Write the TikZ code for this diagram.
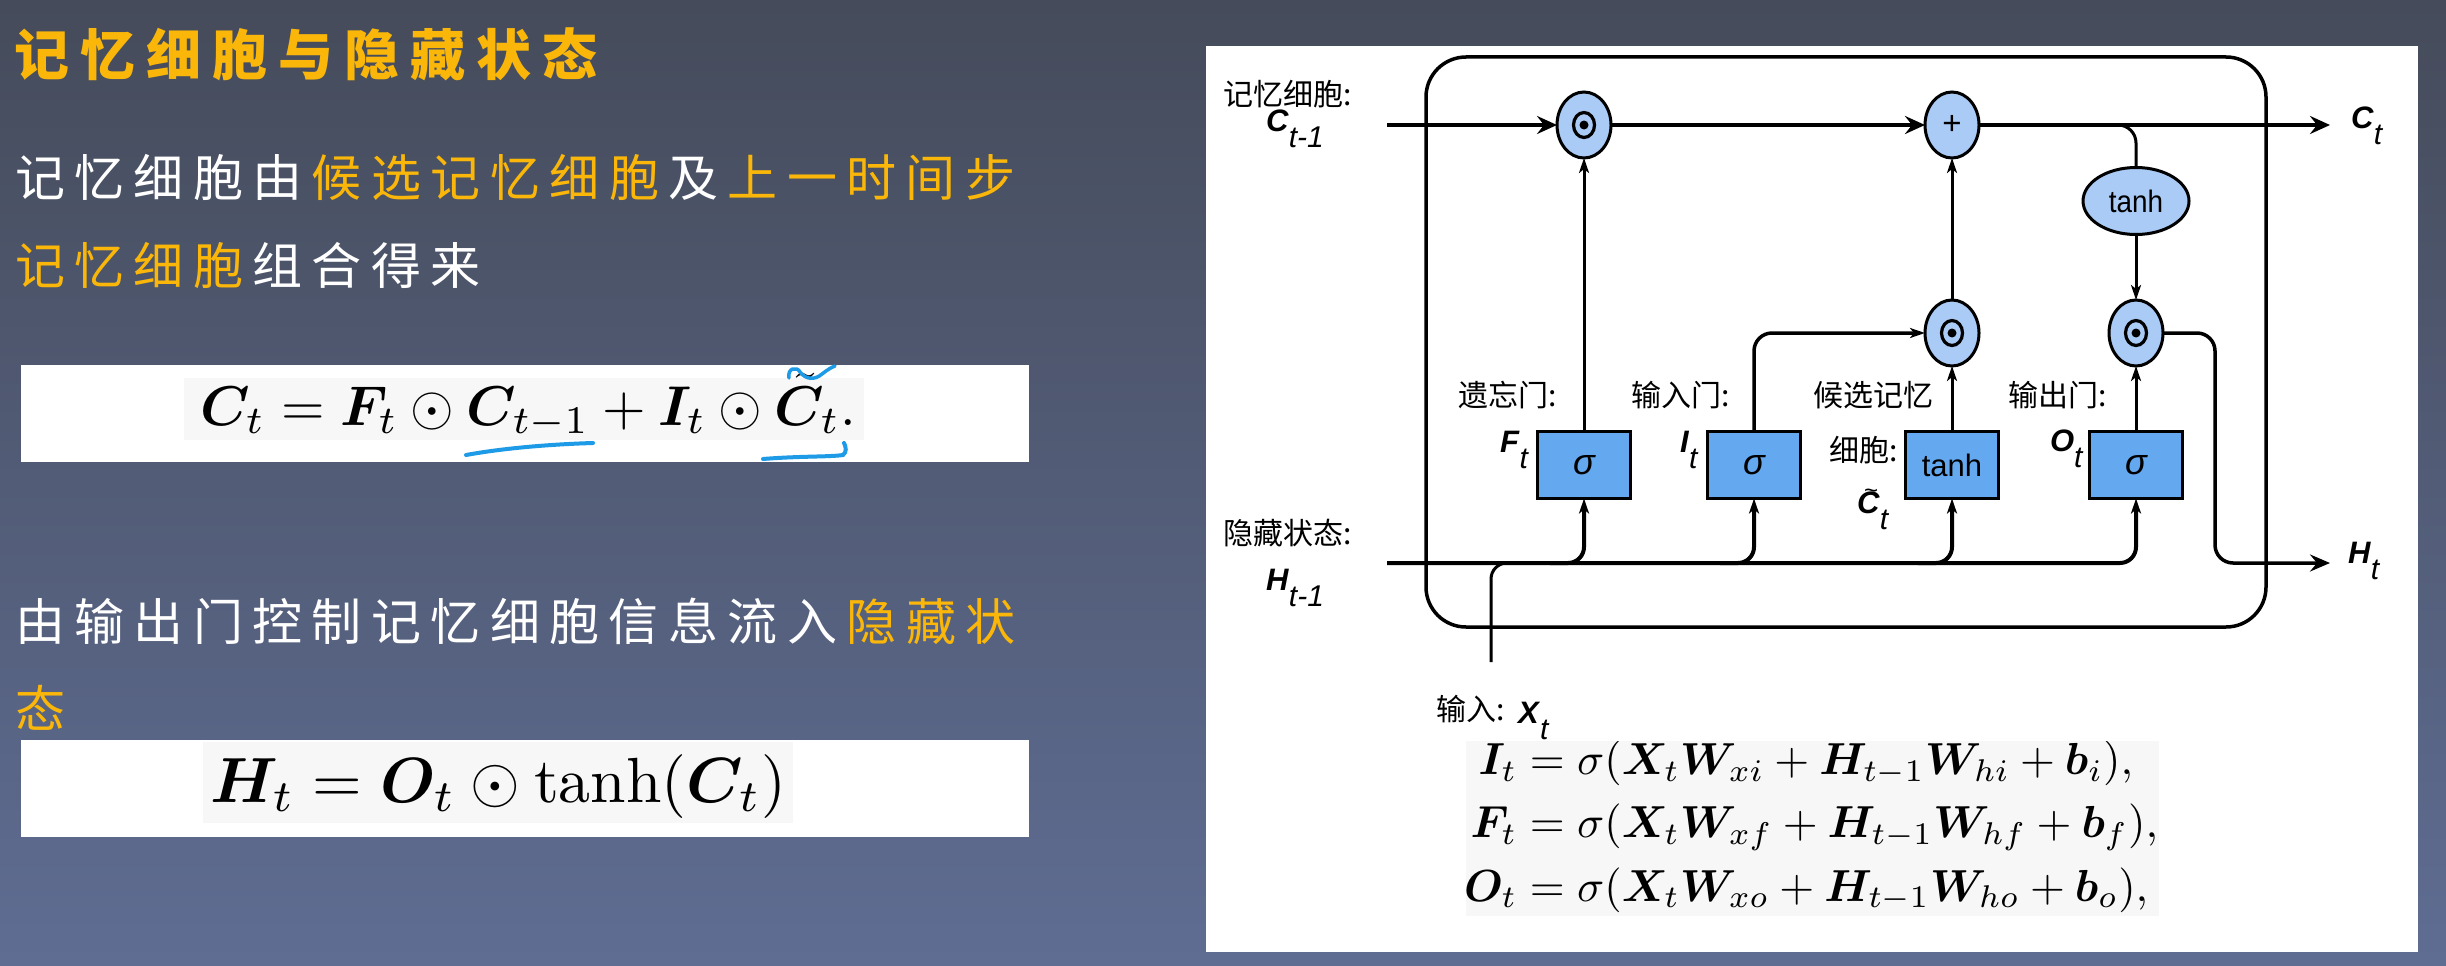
\documentclass[tikz,border=0pt]{standalone}
\usepackage{amsmath,bm}
\usepackage{graphicx}
\usepackage{fontspec}
\usetikzlibrary{arrows.meta,shapes.geometric}
\newfontfamily\cjk{Noto Sans CJK SC}
\newfontfamily\arial{Liberation Sans}
\definecolor{bgtop}{HTML}{454B5A}
\definecolor{bgbot}{HTML}{5F6D93}
\definecolor{orng}{HTML}{FAB70A}
\definecolor{cellfill}{HTML}{A9CBF5}
\definecolor{gatefill}{HTML}{64A9F0}
\definecolor{pen}{HTML}{1E9BE6}
\definecolor{eqbg}{HTML}{F7F7F7}
\makeatletter
\newcommand\spc[1]{\@tfor\my@ch:=#1\do{\makebox[59.4pt][l]{\my@ch}}}
\makeatother
\newcommand\bodyfont{\cjk\fontsize{50}{60}\selectfont}
\newcommand\lab{\cjk\fontsize{30}{32}\selectfont}
\newcommand\vl[2]{\begingroup\arial\fontsize{31}{31}\selectfont\textbf{\textit{#1}}\fontsize{30}{30}\selectfont\raisebox{-16pt}{\textit{#2}}\endgroup}
\newcommand\vlt[2]{\begingroup\arial\fontsize{31}{31}\selectfont\makebox[0pt][l]{\hspace{7pt}\raisebox{15pt}{\fontsize{24}{24}\selectfont\textasciitilde}}\textbf{\textit{#1}}\fontsize{30}{30}\selectfont\raisebox{-16pt}{\textit{#2}}\endgroup}
\begin{document}
\begin{tikzpicture}[x=1pt,y=-1pt,
  every node/.style={inner sep=0pt, outer sep=0pt},
  cell/.style={ellipse, draw, line width=3pt, fill=cellfill, minimum width=54pt, minimum height=66pt},
  odot/.style={cell, path picture={\draw[black, line width=3.2pt] (path picture bounding box.center) ellipse [x radius=10.5pt, y radius=12.5pt]; \fill[black] (path picture bounding box.center) circle [radius=4.5pt];}},
  gate/.style={rectangle, draw, line width=3.5pt, fill=gatefill, minimum width=93pt, minimum height=67pt},
  sig/.style={gate, font=\arial\itshape\fontsize{36}{36}\selectfont},
  thickar/.style={line width=4.5pt, -{Stealth[length=20pt,width=18pt,inset=7pt]}},
  thinar/.style={line width=3pt, -{Stealth[length=15pt,width=10pt,inset=4pt]}},
  wire/.style={line width=3pt},
  hwire/.style={line width=4pt},
  cjklab/.style={font=\lab},
]
\useasboundingbox (0,0) rectangle (2446,966);
\shade[top color=bgtop, bottom color=bgbot] (0,0) rectangle (2446,966);

% ---------- left text ----------
\node[anchor=base west, text=orng] (title) at (14,75) {\cjk\bfseries\fontsize{55}{60}\selectfont\addfontfeatures{LetterSpace=20}记忆细胞与隐藏状态};
\node[anchor=base west, text=white] (l1) at (15,196) {\bodyfont\spc{记忆细胞由}\textcolor{orng}{\spc{候选记忆细胞}}\spc{及}\textcolor{orng}{\spc{上一时间步}}};
\node[anchor=base west, text=white] (l2) at (15,284) {\bodyfont\textcolor{orng}{\spc{记忆细胞}}\spc{组合得来}};
\node[anchor=base west, text=white] (l3) at (15,640) {\bodyfont\spc{由输出门控制记忆细胞信息流入}\textcolor{orng}{\spc{隐藏状}}};
\node[anchor=base west, text=orng] (l4) at (15,727) {\bodyfont 态};

% formula 1
\fill[white] (21,365) rectangle (1029,462);
\fill[eqbg] (184,378) rectangle (864,440);
\node[anchor=base west] (f1) at (200,425) {\resizebox{656pt}{!}{$\bm{C}_t = \bm{F}_t \odot \bm{C}_{t-1} + \bm{I}_t \odot \tilde{\bm{C}}_t.$}};
\draw[pen, line width=4pt, line cap=round] (466,455) .. controls (510,447) and (560,444) .. (593,443);
\draw[pen, line width=4pt, line cap=round] (763,459) .. controls (800,456) and (830,457) .. (843,455) .. controls (847,452) and (846,447) .. (844,443);
\draw[pen, line width=3.5pt, line cap=round] (789,378) .. controls (787,368) and (797,366) .. (800,372) .. controls (806,380) and (815,380) .. (822,374) .. controls (827,370) and (832,367) .. (835,366);

% formula 2
\fill[white] (21,740) rectangle (1029,837);
\fill[eqbg] (203,742) rectangle (793,823);
\node[anchor=base west] (f2) at (210,802) {\resizebox{576pt}{!}{$\bm{H}_t = \bm{O}_t \odot \tanh(\bm{C}_t)$}};

% ---------- right panel ----------
\fill[white] (1206,46) rectangle (2418,952);
\fill[eqbg] (1466,741) rectangle (2159,916);
\begin{scope}
\clip (1206,741) rectangle (2418,952);
\node[anchor=west] (eqs) at (1464,827) {\resizebox{694pt}{!}{\setlength{\jot}{2.1pt}$\begin{aligned}
\bm{I}_t &= \sigma(\bm{X}_t \bm{W}_{xi} + \bm{H}_{t-1} \bm{W}_{hi} + \bm{b}_i),\\
\bm{F}_t &= \sigma(\bm{X}_t \bm{W}_{xf} + \bm{H}_{t-1} \bm{W}_{hf} + \bm{b}_f),\\
\bm{O}_t &= \sigma(\bm{X}_t \bm{W}_{xo} + \bm{H}_{t-1} \bm{W}_{ho} + \bm{b}_o),
\end{aligned}$}};
\end{scope}

% outer box
\draw[line width=3.5pt, rounded corners=40pt] (1426,57) rectangle (2266,627);

% nodes
\node[odot] (d1) at (1584,125) {};
\node[cell, font=\arial\fontsize{33}{33}\selectfont] (plus) at (1952,125) {+};
\node[cell, minimum width=106pt, minimum height=67pt, font=\arial\fontsize{31}{31}\selectfont] (tanh) at (2136,201) {\scalebox{0.9}[1]{tanh}};
\node[odot] (d2) at (1952,333) {};
\node[odot] (d3) at (2136,333) {};
\node[sig] (gf) at (1584,465) {σ};
\node[sig] (gi) at (1754,465) {σ};
\node[gate, font=\arial\fontsize{31}{31}\selectfont] (gc) at (1952,465) {tanh};
\node[sig] (go) at (2136,465) {σ};

\coordinate (cin) at (1387,125);
\coordinate (cout) at (2330,125);
\coordinate (hin) at (1387,563);
\coordinate (hout) at (2330,563);
\coordinate (xin) at (1491,662);

% memory line
\draw[thickar] (cin) -- (d1);
\draw[thickar] (d1) -- (plus);
\draw[thickar] (plus) -- (cout);
\draw[wire, rounded corners=18pt] (2090,125) -| (tanh.north);
\draw[thinar] (tanh) -- (d3);
\draw[thinar] (gf) -- (d1);
\draw[thinar] (gc) -- (d2);
\draw[thinar] (d2) -- (plus);
\draw[thinar] (go) -- (d3);
\draw[thinar, line width=3.5pt, rounded corners=18pt] (gi.north) |- (d2.west);
\draw[line width=3.5pt, rounded corners=18pt, -{Stealth[length=20pt,width=17pt,inset=7pt]}] (d3.east) -| (2215,563) -- (hout);

% hidden line
\draw[hwire, rounded corners=16pt, -{Stealth[length=15pt,width=10pt,inset=4pt]}] (hin) -| (go.south);
\draw[hwire, rounded corners=16pt, -{Stealth[length=15pt,width=10pt,inset=4pt]}] (1550,563) -| (gf.south);
\draw[hwire, rounded corners=16pt, -{Stealth[length=15pt,width=10pt,inset=4pt]}] (1720,563) -| (gi.south);
\draw[hwire, rounded corners=16pt, -{Stealth[length=15pt,width=10pt,inset=4pt]}] (1918,563) -| (gc.south);
\draw[wire, rounded corners=16pt] (xin) |- (1540,563);

% labels
\node[cjklab] (lc) at (1288,94) {记忆细胞:};
\node[anchor=base west] (lcv) at (1266,131) {\vl{C}{t-1}};
\node[cjklab] (lh) at (1288,533) {隐藏状态:};
\node[anchor=base west] (lhv) at (1266,590) {\vl{H}{t-1}};
\node[anchor=base west] (ct) at (2351,128) {\vl{C}{t}};
\node[anchor=base west] (ht) at (2348,563) {\vl{H}{t}};
\node[cjklab] (lf) at (1508,395) {遗忘门:};
\node[cjklab] (li) at (1681,395) {输入门:};
\node[cjklab] (lcand) at (1873,395) {候选记忆};
\node[cjklab] (lcand2) at (1864,450) {细胞:};
\node[cjklab] (lo) at (2058,395) {输出门:};
\node[anchor=base west] (fv) at (1500,452) {\vl{F}{t}};
\node[anchor=base west] (iv) at (1680,452) {\vl{I}{t}};
\node[anchor=base west] (ov) at (2050,451) {\vl{O}{t}};
\node[anchor=base west] (cv) at (1857,513) {\vlt{C}{t}};
\node[cjklab] (lx) at (1471,709) {输入:};
\node[anchor=base west] (xv) at (1518,723) {\vl{X}{t}};
\end{tikzpicture}
\end{document}
